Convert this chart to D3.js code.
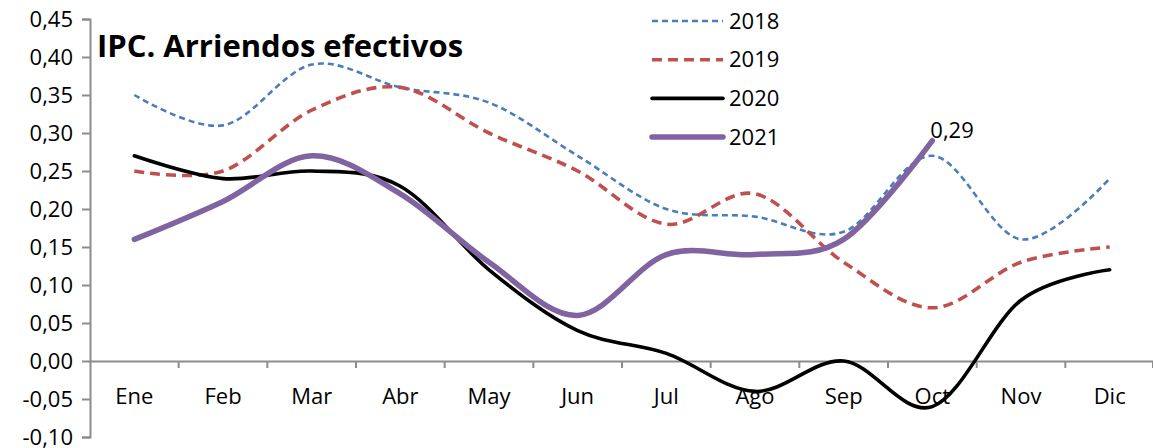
<!DOCTYPE html>
<html>
<head>
<meta charset="utf-8">
<script src="https://cdn.jsdelivr.net/npm/d3@7"></script>
<style>
  html, body { margin: 0; padding: 0; background: #fff; }
  svg { display: block; font-family: "Open Sans", Lato, sans-serif; }
</style>
</head>
<body>
<svg id="chart" width="1153" height="448"></svg>
<script>
const months = ["Ene","Feb","Mar","Abr","May","Jun","Jul","Ago","Sep","Oct","Nov","Dic"];
const v2018 = [0.35,0.31,0.39,0.36,0.34,0.27,0.20,0.19,0.17,0.27,0.16,0.24];
const v2019 = [0.25,0.25,0.33,0.36,0.30,0.25,0.18,0.22,0.13,0.07,0.13,0.15];
const v2020 = [0.27,0.24,0.25,0.23,0.12,0.04,0.01,-0.04,0.00,-0.06,0.08,0.12];
const v2021 = [0.16,0.21,0.27,0.22,0.13,0.06,0.14,0.14,0.16,0.29];
const yTicks = [-0.10,-0.05,0.00,0.05,0.10,0.15,0.20,0.25,0.30,0.35,0.40,0.45];
const seriesNames = ["2018","2019","2020","2021"];
const title = "IPC. Arriendos efectivos";
const lastLabel = "0,29";

const series = [
  {name: seriesNames[0], values: v2018, color: "#4A7EBB", width: 2.6, dash: "6,4"},
  {name: seriesNames[1], values: v2019, color: "#C0504D", width: 3.6, dash: "10,6"},
  {name: seriesNames[2], values: v2020, color: "#000000", width: 3.6, dash: null},
  {name: seriesNames[3], values: v2021, color: "#8064A2", width: 5.5, dash: null}
];

const FS = 22;
const svg = d3.select("#chart");
const x = d3.scaleBand().domain(months).range([90, 1154]).padding(0);
const y = d3.scaleLinear().domain([-0.10, 0.45]).range([437, 19]);
const loc = d3.formatLocale({decimal: ",", thousands: ".", grouping: [3], currency: ["", ""], minus: "-"});
const fmt = loc.format(".2f");
const axisColor = "#8c8c8c";

// Y axis
const gy = svg.append("g").attr("transform", "translate(90,0)")
  .call(d3.axisLeft(y).tickValues(yTicks).tickFormat(fmt).tickSize(8).tickPadding(9));
gy.select(".domain").attr("stroke", axisColor).attr("stroke-width", 2);
gy.selectAll(".tick line").attr("stroke", axisColor).attr("stroke-width", 2);
gy.selectAll(".tick text").attr("font-size", FS).attr("fill", "#000")
  .attr("font-family", "'Open Sans', Lato, sans-serif");

// X axis at zero
const y0 = y(0);
const gx = svg.append("g").attr("transform", `translate(0,${y0})`)
  .call(d3.axisBottom(x).tickSize(0).tickPadding(27));
gx.select(".domain").attr("stroke", axisColor).attr("stroke-width", 2);
gx.selectAll(".tick text").attr("font-size", FS).attr("fill", "#000")
  .attr("font-family", "'Open Sans', Lato, sans-serif");
// boundary ticks
const bounds = months.slice(1).map(m => x(m)).concat([x.range()[1] - 1]);
gx.selectAll("line.bt").data(bounds).enter().append("line")
  .attr("class", "bt")
  .attr("x1", d => d).attr("x2", d => d).attr("y1", 0).attr("y2", 7)
  .attr("stroke", axisColor).attr("stroke-width", 2);

// Lines
const line = d3.line()
  .x((d, i) => x(months[i]) + x.bandwidth() / 2)
  .y(d => y(d))
  .curve(d3.curveCatmullRom.alpha(0));

series.forEach(s => {
  const p = svg.append("path")
    .attr("d", line(s.values))
    .attr("fill", "none")
    .attr("stroke", s.color)
    .attr("stroke-width", s.width)
    .attr("stroke-linecap", "round")
    .attr("stroke-linejoin", "round");
  if (s.dash) p.attr("stroke-dasharray", s.dash).attr("stroke-linecap", "butt");
});

// Last label
const lastIdx = v2021.length - 1;
svg.append("text")
  .attr("x", x(months[lastIdx]) + x.bandwidth() / 2 - 2)
  .attr("y", y(v2021[lastIdx]) - 3)
  .attr("font-size", FS).attr("fill", "#000")
  .text(lastLabel);

// Title
svg.append("text")
  .attr("x", 97).attr("y", 57)
  .attr("font-size", 31).attr("font-weight", "bold").attr("fill", "#000")
  .text(title);

// Legend
const lg = svg.append("g");
series.forEach((s, i) => {
  const ly = 21 + i * 38.7;
  const l = lg.append("line")
    .attr("x1", 652).attr("x2", 723).attr("y1", ly).attr("y2", ly)
    .attr("stroke", s.color).attr("stroke-width", s.width)
    .attr("stroke-linecap", s.dash ? "butt" : "round");
  if (s.dash) l.attr("stroke-dasharray", s.dash);
  lg.append("text").attr("x", 729).attr("y", ly).attr("dy", "0.35em")
    .attr("font-size", FS).attr("fill", "#000").text(s.name);
});
</script>
</body>
</html>
